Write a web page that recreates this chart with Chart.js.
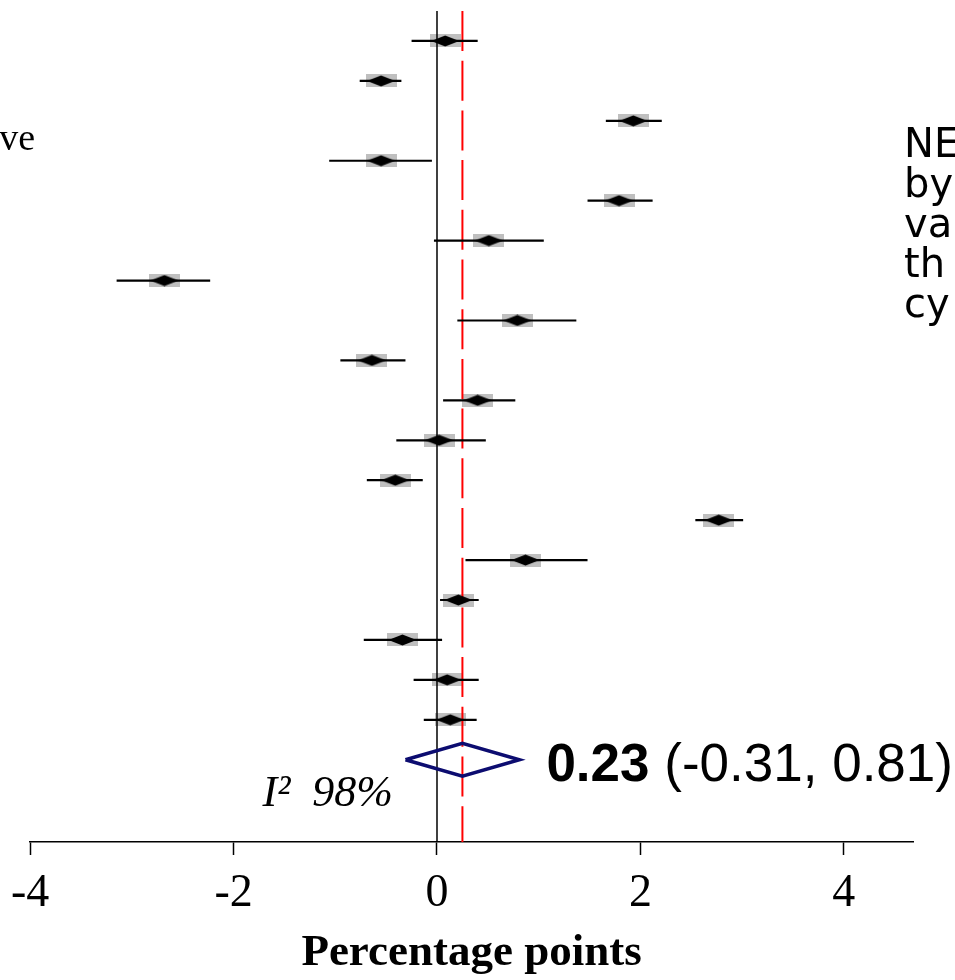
<!DOCTYPE html>
<html>
<head>
<meta charset="utf-8">
<title>Forest plot</title>
<script src="https://cdn.jsdelivr.net/npm/chart.js@4.4.1/dist/chart.umd.min.js"></script>
<style>
  html, body { margin: 0; padding: 0; background: #fff; overflow: hidden; }
  #wrap { width: 955px; height: 980px; }
</style>
</head>
<body>
<div id="wrap"><canvas id="forest" width="955" height="980"></canvas></div>
<script>
// study rows, top to bottom
const rows = [1, 2, 3, 4, 5, 6, 7, 8, 9, 10, 11, 12, 13, 14, 15, 16, 17, 18];
// difference in percentage points, with 95% CI
const estimates = [0.08, -0.55, 1.93, -0.55, 1.79, 0.51, -2.68, 0.79, -0.64, 0.40, 0.02, -0.41, 2.77, 0.87, 0.21, -0.34, 0.10, 0.13];
const lower     = [-0.25, -0.76, 1.66, -1.06, 1.48, -0.03, -3.15, 0.20, -0.95, 0.06, -0.40, -0.69, 2.54, 0.28, 0.03, -0.72, -0.23, -0.13];
const upper     = [0.40, -0.35, 2.21, -0.05, 2.12, 1.05, -2.23, 1.37, -0.31, 0.77, 0.48, -0.14, 3.01, 1.48, 0.41, 0.05, 0.41, 0.39];

// pooled estimate
const pooledRow = 19;
const pooled = 0.25;
const pooledLow = -0.31;
const pooledHigh = 0.81;
const pooledText = '0.23';
const pooledCIText = '(-0.31, 0.81)';
const i2Text = '98%';

const xTicks = [-4, -2, 0, 2, 4];
const xMin = -4, xMax = 4.68;
const yTop = 0.25, yBottom = 21.06;

const sideText = ['NE', 'by', 'va', 'th', 'cy'];
const leftText = 've';

const serif = '"Liberation Serif", "Times New Roman", serif';
const sans = '"Liberation Sans", Arial, sans-serif';

// gray box and black diamond used as point styles
function makeBox() {
    const c = document.createElement('canvas');
    c.width = 31; c.height = 13;
    const g = c.getContext('2d');
    g.fillStyle = '#bfbfbf';
    g.fillRect(0, 0, 31, 13);
    return c;
}
function makeDiamond() {
    const c = document.createElement('canvas');
    c.width = 29; c.height = 12;
    const g = c.getContext('2d');
    g.fillStyle = '#000';
    g.beginPath();
    g.moveTo(0.5, 6);
    g.lineTo(14.5, 0.5);
    g.lineTo(28.5, 6);
    g.lineTo(14.5, 11.5);
    g.closePath();
    g.fill();
    return c;
}

const ciData = [];
rows.forEach((r, i) => {
    ciData.push({x: lower[i], y: r}, {x: upper[i], y: r}, {x: NaN, y: NaN});
});
const pointData = rows.map((r, i) => ({x: estimates[i], y: r}));
const diamondData = [
    {x: pooledLow, y: pooledRow},
    {x: pooled, y: pooledRow - 0.41},
    {x: pooledHigh, y: pooledRow},
    {x: pooled, y: pooledRow + 0.41},
    {x: pooledLow, y: pooledRow}
];

// texts around the plot
const labelsPlugin = {
    id: 'labels',
    afterDraw(chart) {
        const ctx = chart.ctx;
        const xs = chart.scales.x, ys = chart.scales.y;
        const py = ys.getPixelForValue(pooledRow);
        ctx.save();
        ctx.fillStyle = '#000';
        ctx.textBaseline = 'alphabetic';

        // pooled label
        let x = xs.getPixelForValue(pooledHigh) + 27;
        ctx.textAlign = 'left';
        ctx.font = 'bold 53px ' + sans;
        ctx.fillText(pooledText, x, py + 21);
        x += ctx.measureText(pooledText + ' ').width;
        ctx.font = '53px ' + sans;
        ctx.fillText(pooledCIText, x, py + 21);

        // heterogeneity
        ctx.textAlign = 'right';
        ctx.font = 'italic 44px ' + serif;
        ctx.fillText('I\u00B2  ' + i2Text, xs.getPixelForValue(0) - 44, py + 46);

        // cut-off text at the left
        ctx.font = '38px ' + serif;
        ctx.fillText(leftText, 35, 150);

        // cut-off text at the right
        ctx.textAlign = 'left';
        ctx.font = '40px "DejaVu Sans", Verdana, sans-serif';
        sideText.forEach((t, i) => ctx.fillText(t, 904, 157 + i * 40));
        ctx.restore();
    }
};

new Chart(document.getElementById('forest'), {
    type: 'scatter',
    data: {
        datasets: [
            {   // black diamonds
                data: pointData,
                pointStyle: makeDiamond(),
                pointRadius: 10,
                order: 0
            },
            {   // confidence intervals
                data: ciData,
                showLine: true,
                borderColor: '#000',
                borderWidth: 2.2,
                pointRadius: 0,
                spanGaps: false,
                order: 1
            },
            {   // pooled diamond
                data: diamondData,
                showLine: true,
                borderColor: '#0c0c70',
                borderWidth: 3.5,
                borderJoinStyle: 'miter',
                pointRadius: 0,
                order: 2
            },
            {   // zero line
                data: [{x: 0, y: yTop}, {x: 0, y: yBottom}],
                showLine: true,
                borderColor: '#000',
                borderWidth: 1.5,
                pointRadius: 0,
                order: 3
            },
            {   // pooled effect line
                data: [{x: pooled, y: yTop}, {x: pooled, y: yBottom}],
                showLine: true,
                borderColor: '#ff0000',
                borderWidth: 2,
                borderDash: [40, 9.7],
                pointRadius: 0,
                order: 4
            },
            {   // gray boxes
                data: pointData,
                pointStyle: makeBox(),
                pointRadius: 10,
                order: 5
            }
        ]
    },
    options: {
        responsive: false,
        animation: false,
        devicePixelRatio: 1,
        layout: { padding: { top: 8, left: 30, right: 42, bottom: 0 } },
        plugins: {
            legend: { display: false },
            tooltip: { enabled: false }
        },
        scales: {
            x: {
                type: 'linear',
                min: xMin,
                max: xMax,
                afterBuildTicks: s => { s.ticks = xTicks.map(v => ({value: v})); },
                afterFit: s => { s.height = 138; },
                grid: {
                    drawOnChartArea: false,
                    drawTicks: true,
                    tickLength: 13,
                    tickColor: '#000',
                    tickWidth: 1.5
                },
                border: { display: true, color: '#000', width: 1.5 },
                ticks: {
                    color: '#000',
                    padding: 11,
                    maxRotation: 0,
                    autoSkip: false,
                    font: { family: serif, size: 46 }
                },
                title: {
                    display: true,
                    text: 'Percentage points',
                    color: '#000',
                    padding: { top: 0, bottom: 0 },
                    font: { family: serif, size: 45, weight: 'bold' }
                }
            },
            y: {
                type: 'linear',
                display: false,
                reverse: true,
                min: yTop,
                max: yBottom
            }
        }
    },
    plugins: [labelsPlugin]
});
</script>
</body>
</html>
